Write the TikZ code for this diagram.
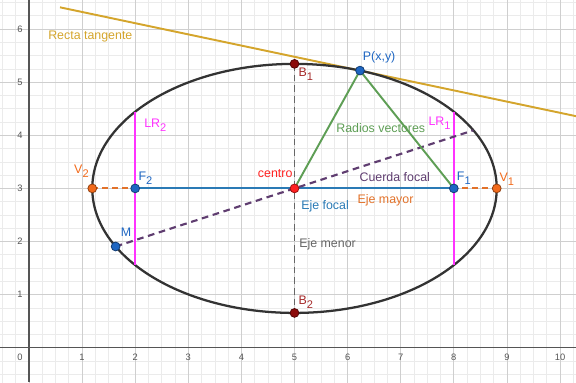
\documentclass[tikz,border=0pt]{standalone}
\usepackage{fontspec}
\setmainfont{Liberation Sans}
\usetikzlibrary{calc}
\definecolor{ellc}{HTML}{333333}
\definecolor{tanc}{HTML}{D4A52C}
\definecolor{grnc}{HTML}{5E9E55}
\definecolor{purc}{HTML}{5F3D70}
\definecolor{bluc}{HTML}{2A7AB5}
\definecolor{bluep}{HTML}{1E66C2}
\definecolor{orgc}{HTML}{E2722A}
\definecolor{orgp}{HTML}{F26A1B}
\definecolor{magc}{HTML}{FF33FF}
\definecolor{gryc}{HTML}{666666}
\definecolor{redc}{HTML}{FF2020}
\definecolor{drdc}{HTML}{8C0A0A}
\definecolor{drdt}{HTML}{A52A2A}
\definecolor{gmin}{HTML}{EBEBEB}
\definecolor{gmaj}{HTML}{CFCFCF}
\definecolor{axc}{HTML}{555555}
\newcommand{\lsub}[1]{\raisebox{-3pt}{\fontsize{8.3}{9}\selectfont #1}}
\begin{document}
\begin{tikzpicture}[x=39.825pt,y=39.825pt,
  lbl/.style={anchor=base west,inner sep=0pt,font=\fontsize{9.3}{11}\selectfont},
  tick/.style={inner sep=0pt,font=\fontsize{7}{8}\selectfont,text=axc},
  pt/.style={circle,inner sep=0pt,minimum size=6.6pt,draw=#1!60!black,fill=#1,line width=0.6pt},
  seg/.style={line width=1.45pt},
  dashline/.style={dash pattern=on 4.5pt off 3pt}]
\useasboundingbox (-0.546,-0.646) rectangle (10.301,6.548);
\begin{scope}
\clip (-0.546,-0.646) rectangle (10.301,6.548);
\draw[gmin,line width=0.5pt,step=0.25] (-0.75,-0.75) grid (10.5,6.75);
\draw[gmaj,line width=0.6pt,step=1] (-1,-1) grid (11,7);
\draw[axc,line width=1pt] (-0.546,0) -- (10.301,0);
\draw[axc,line width=1pt] (0,-0.646) -- (0,6.548);
\foreach \i in {1,...,10} \node[tick] (tx\i) at (\i,-0.18) {\i};
\node[tick] (t0) at (-0.17,-0.18) {0};
\foreach \j in {1,...,6} \node[tick] (ty\j) at (-0.17,\j) {\j};

% points
\coordinate (C) at (5,3);
\coordinate (F1) at (8,3);
\coordinate (F2) at (2,3);
\coordinate (V1) at (8.808,3);
\coordinate (V2) at (1.192,3);
\coordinate (B1) at (5,5.345);
\coordinate (B2) at (5,0.655);
\coordinate (P) at ($(5,3)+(71.1:3.808 and 2.345)$);
\coordinate (M) at ($(5,3)+(207.8:3.808 and 2.345)$);
\coordinate (N) at ($(5,3)+(27.8:3.808 and 2.345)$);
\coordinate (L1a) at (8,4.448);
\coordinate (L1b) at (8,1.552);
\coordinate (L2a) at (2,4.448);
\coordinate (L2b) at (2,1.552);
\coordinate (T0) at (0.584,6.41);
\coordinate (T1) at (10.6,4.297);

% tangent
\draw[tanc,seg] (T0) -- (T1);
% ellipse
\draw[ellc,line width=1.7pt] (C) ellipse [x radius=3.808, y radius=2.345];
% minor axis
\draw[gryc,seg,dash pattern=on 5pt off 3pt] (B1) -- (B2);
% major axis
\draw[orgc,seg,dashline] (V2) -- (V1);
% focal axis
\draw[bluc,seg] (F2) -- (F1);
% latus recta
\draw[magc,seg] (L1a) -- (L1b);
\draw[magc,seg] (L2a) -- (L2b);
% focal chord
\draw[purc,line width=1.6pt,dash pattern=on 5pt off 3.5pt] (M) -- (N);
% radios vectores
\draw[grnc,seg] (P) -- (C);
\draw[grnc,seg] (P) -- (F1);

% dots
\node[pt=drdc] (nB1) at (B1) {};
\node[pt=drdc] (nB2) at (B2) {};
\node[pt=orgp] (nV1) at (V1) {};
\node[pt=orgp] (nV2) at (V2) {};
\node[pt=bluep] (nF1) at (F1) {};
\node[pt=bluep] (nF2) at (F2) {};
\node[pt=bluep] (nP) at (P) {};
\node[pt=bluep] (nM) at (M) {};
\node[pt=redc] (nC) at (C) {};

% labels
\node[lbl,text=tanc] (lT) at (0.358,5.795) {Recta tangente};
\node[lbl,text=bluep] (lP) at (6.284,5.418) {P(x,y)};
\node[lbl,text=drdt] (lB1) at (5.072,5.104) {B\lsub{1}};
\node[lbl,text=drdt] (lB2) at (5.072,0.817) {B\lsub{2}};
\node[lbl,text=grnc] (lR) at (5.782,4.049) {Radios vectores};
\node[lbl,text=redc] (lC) at (4.307,3.209) {centro};
\node[lbl,text=purc] (lCF) at (6.221,3.139) {Cuerda focal};
\node[lbl,text=bluc] (lEF) at (5.122,2.612) {Eje focal};
\node[lbl,text=orgc] (lEM) at (6.183,2.719) {Eje mayor};
\node[lbl,text=gryc] (lEm) at (5.085,1.891) {Eje menor};
\node[lbl,text=magc] (lL1) at (7.52,4.181) {LR\lsub{1}};
\node[lbl,text=magc] (lL2) at (2.166,4.151) {LR\lsub{2}};
\node[lbl,text=bluep] (lF1) at (8.054,3.145) {F\lsub{1}};
\node[lbl,text=bluep] (lF2) at (2.059,3.158) {F\lsub{2}};
\node[lbl,text=orgp] (lV1) at (8.857,3.126) {V\lsub{1}};
\node[lbl,text=orgp] (lV2) at (0.847,3.284) {V\lsub{2}};
\node[lbl,text=bluep] (lM) at (1.727,2.09) {M};
\end{scope}
\end{tikzpicture}
\end{document}
